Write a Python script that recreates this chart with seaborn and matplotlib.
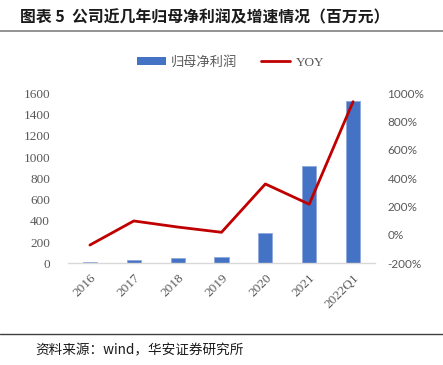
import matplotlib
matplotlib.use('Agg')
import matplotlib.pyplot as plt
import seaborn as sns
import pandas as pd
from matplotlib.lines import Line2D
from matplotlib.patches import Patch
from matplotlib.ticker import FuncFormatter

# data
years = ['2016', '2017', '2018', '2019', '2020', '2021', '2022Q1']
profit = [16, 32, 47, 63, 286, 913, 1525]      # 归母净利润, 百万元
yoy = [-71, 99, 56, 19, 360, 217, 941]         # YOY, %

df = pd.DataFrame({'year': years, 'profit': profit, 'yoy': yoy})

sns.set_theme(style='white')
plt.rcParams['font.family'] = ['Noto Sans CJK SC', 'DejaVu Sans']

fig = plt.figure(figsize=(4.43, 3.65), dpi=100)
ax = fig.add_axes([0.1535, 0.2786, 0.693, 0.4658])

# bars
sns.barplot(data=df, x='year', y='profit', color='#4472C4', width=0.32,
            saturation=1, edgecolor='#8fa9dc', linewidth=0.6, ax=ax)
ax.set_ylim(0, 1600)
ax.set_xlim(-0.5, 6.5)
ax.set_yticks(range(0, 1601, 200))
ax.set_xlabel('')
ax.set_ylabel('')

# YOY line on the right axis
ax2 = ax.twinx()
sns.lineplot(data=df, x='year', y='yoy', color='#C00000', linewidth=2.0,
             ax=ax2, sort=False)
ax2.set_ylim(-200, 1000)
ax2.set_yticks(range(-200, 1001, 200))
ax2.yaxis.set_major_formatter(FuncFormatter(lambda v, p: f'{int(v)}%'))
ax2.set_ylabel('')
ax2.set_xlabel('')
ax2.set_xlim(-0.5, 6.5)

for a in (ax, ax2):
    for s in a.spines.values():
        s.set_visible(False)
    a.tick_params(length=0)
    a.grid(False)
ax.spines['bottom'].set_visible(True)
ax.spines['bottom'].set_color('#d9d9d9')
ax.spines['bottom'].set_linewidth(1.0)

for lbl in ax.get_yticklabels():
    lbl.set_family('Liberation Serif')
    lbl.set_fontsize(9.5)
    lbl.set_color('#595959')
ax.tick_params(axis='y', pad=13)
for lbl in ax.get_xticklabels():
    lbl.set_family('Liberation Serif')
    lbl.set_fontsize(9.5)
    lbl.set_color('#595959')
    lbl.set_rotation(45)
    lbl.set_ha('right')
    lbl.set_rotation_mode('anchor')
ax.tick_params(axis='x', pad=6)
for lbl in ax2.get_yticklabels():
    lbl.set_family('Lato')
    lbl.set_fontsize(8.5)
    lbl.set_color('#595959')
ax2.tick_params(axis='y', pad=9)

# legend
handles = [Patch(facecolor='#4472C4', edgecolor='none'),
           Line2D([0], [0], color='#C00000', linewidth=2.0)]
leg = fig.legend(handles, ['归母净利润', 'YOY'], loc='center',
                 bbox_to_anchor=(0.52, 0.83), ncol=2, frameon=False,
                 fontsize=9.5, handlelength=2.2, handleheight=0.5,
                 columnspacing=1.8, handletextpad=0.4)
for t in leg.get_texts():
    t.set_color('#595959')
leg.get_texts()[1].set_family('Liberation Serif')

# title, rules and source note
fig.text(0.045, 0.951, '图表 5  公司近几年归母净利润及增速情况（百万元）',
         fontsize=11.4, fontweight='bold', color='#1a1a1a', va='center')
fig.add_artist(Line2D([0, 1], [0.915, 0.915], color='#808080', linewidth=1.2))
fig.add_artist(Line2D([0, 1], [0.085, 0.085], color='#404040', linewidth=1.0))
fig.text(0.079, 0.041, '资料来源：wind，华安证券研究所', fontsize=9.8,
         color='#1a1a1a', va='center')

fig.savefig('out.png', dpi=100)
